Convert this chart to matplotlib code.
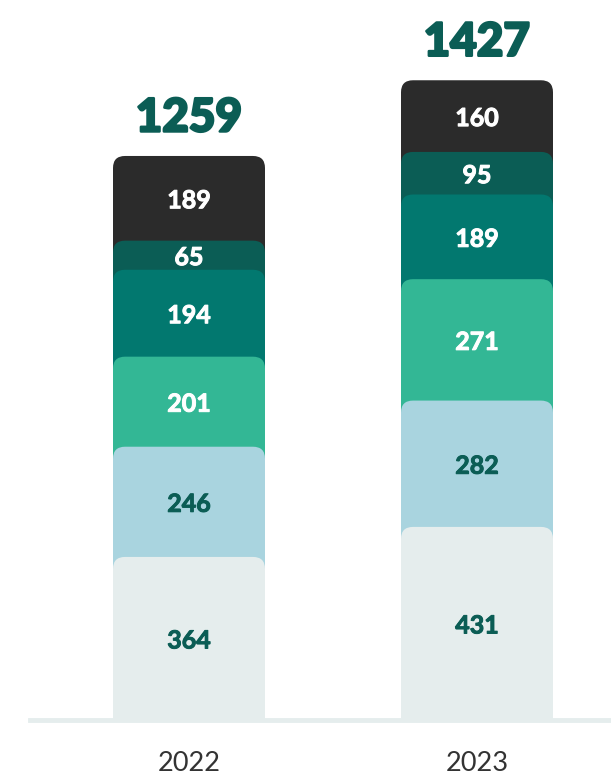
import numpy as np
import matplotlib
matplotlib.use("Agg")
import matplotlib.pyplot as plt
import matplotlib.patheffects as pe
from matplotlib.patches import FancyBboxPatch

years = ["2022", "2023"]
# stack order: bottom -> top
seg_2022 = [364, 246, 201, 194, 65, 189]
seg_2023 = [431, 282, 271, 189, 95, 160]
totals = [1259, 1427]
seg_colors = ["#e5eded", "#a9d4df", "#33b795", "#02786f", "#0b5d55", "#2b2b2b"]
label_colors = ["#0b5d55", "#0b5d55", "white", "white", "white", "white"]

W, H = 611, 775
px_per_unit_y = 0.448   # pixels per value unit
px_per_x = 288           # pixels between bar centres
bar_w = 152 / px_per_x
base_px = 720            # baseline, pixels from top
ymax = 1500

fig = plt.figure(figsize=(W / 100, H / 100), dpi=100)
ax_left_px, ax_right_px = 30, 611
ax = fig.add_axes([ax_left_px / W, (H - base_px) / H,
                   (ax_right_px - ax_left_px) / W, ymax * px_per_unit_y / H])
x0 = (ax_left_px - 189) / px_per_x
ax.set_xlim(x0, x0 + (ax_right_px - ax_left_px) / px_per_x)
ax.set_ylim(0, ymax)

radius_x = 12 / px_per_x
aspect = (1 / px_per_unit_y) / (1 / px_per_x)

for i, segs in enumerate([seg_2022, seg_2023]):
    cums = np.cumsum(segs)
    # draw tallest first so lower segments sit on top of it
    for j in range(len(segs) - 1, -1, -1):
        bottom = -60
        box = FancyBboxPatch((i - bar_w / 2, bottom), bar_w, cums[j] - bottom,
                             boxstyle=f"round,pad=0,rounding_size={radius_x}",
                             mutation_aspect=aspect,
                             facecolor=seg_colors[j], edgecolor="none", zorder=2)
        ax.add_patch(box)
    for j, v in enumerate(segs):
        mid = cums[j] - v / 2
        ax.annotate(str(v), (i, mid), xytext=(0, -1.8), textcoords="offset points",
                    ha="center", va="center", color=label_colors[j],
                    fontsize=18, fontweight="bold", fontfamily="Lato", zorder=5,
                    path_effects=[pe.withStroke(linewidth=0.7, foreground=label_colors[j])])
    ax.annotate(str(totals[i]), (i, cums[-1]), xytext=(0, 27), textcoords="offset points",
                ha="center", va="center", color="#0b5d55", fontsize=33,
                fontweight="black", fontfamily="Lato",
                path_effects=[pe.withStroke(linewidth=1.8, foreground="#0b5d55")])

ax.axhline(0, color="#e5eded", linewidth=3.5, clip_on=False, zorder=1)

for s in ax.spines.values():
    s.set_visible(False)
ax.set_yticks([])
ax.set_xticks([0, 1])
ax.set_xticklabels(years, fontsize=19.5, fontfamily="Lato", color="#333333")
ax.tick_params(axis="x", length=0, pad=22)
ax.patch.set_alpha(0)

fig.savefig("out.png", dpi=100)
